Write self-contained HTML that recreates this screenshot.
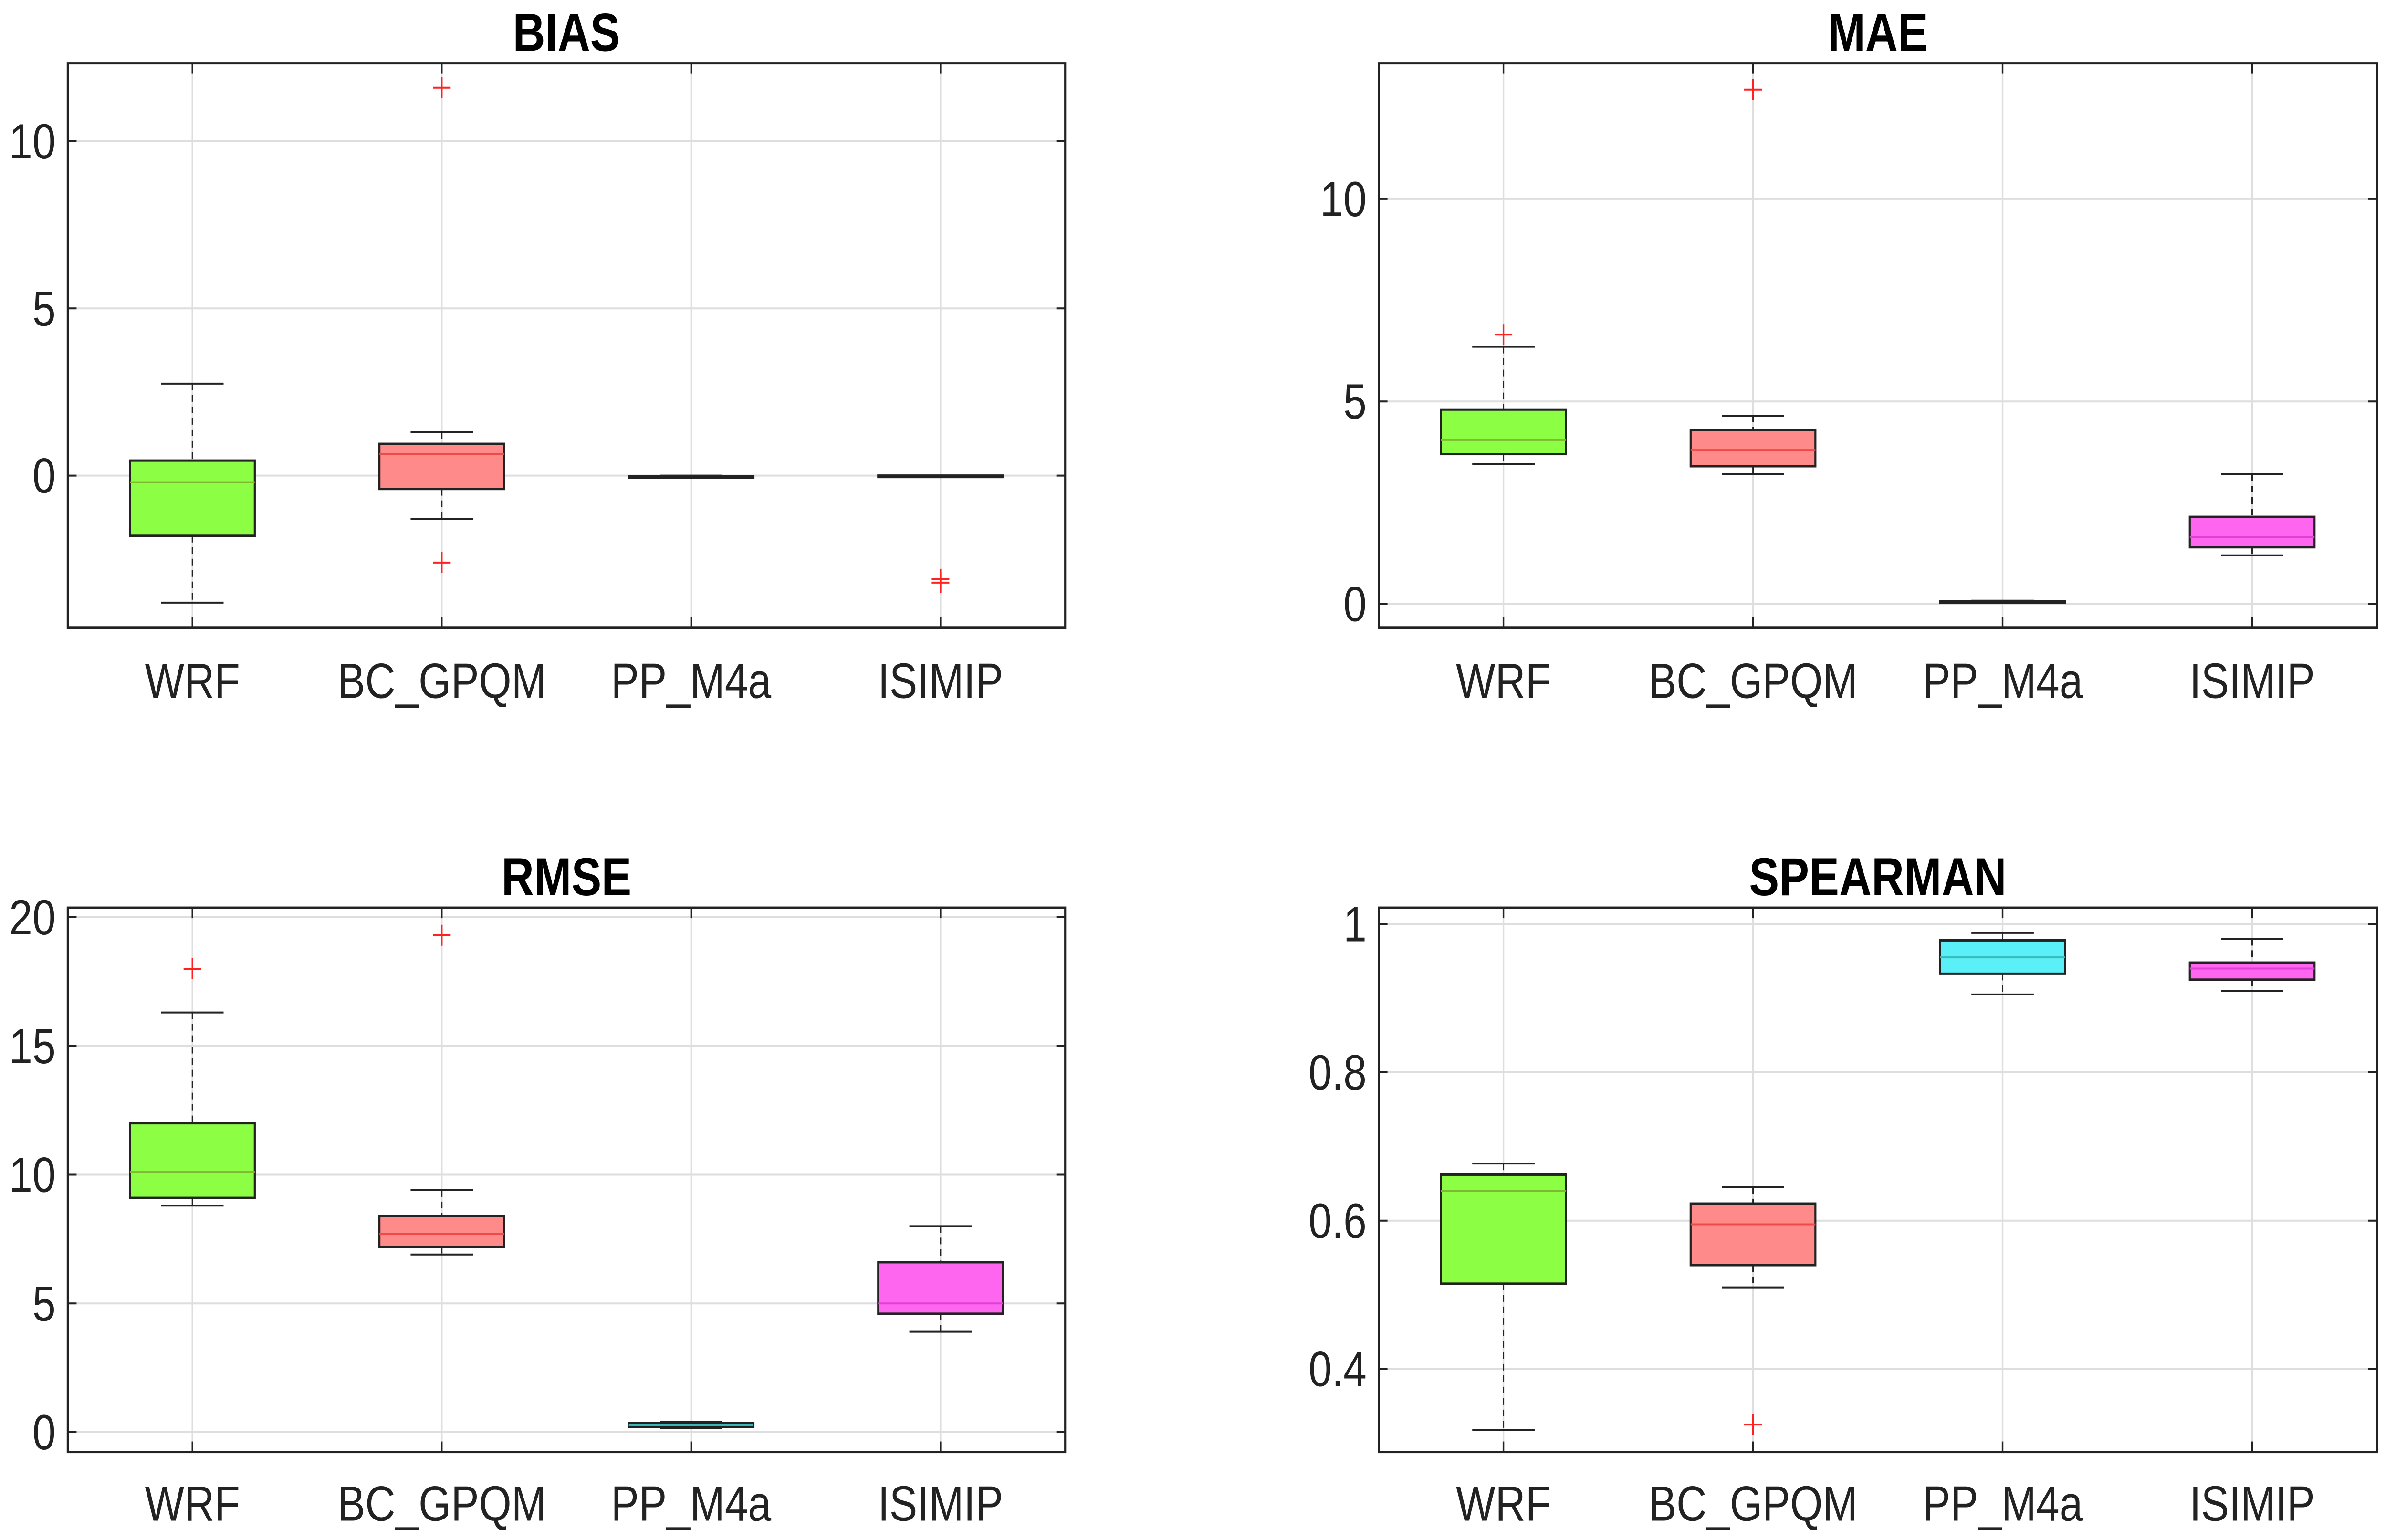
<!DOCTYPE html>
<html><head><meta charset="utf-8"><style>html,body{margin:0;padding:0;background:#fff;width:100%;height:100%;overflow:hidden}svg{display:block;width:100vw;height:100vh}</style></head>
<body>
<svg id="fig" xmlns="http://www.w3.org/2000/svg" viewBox="0 0 5941 3227" preserveAspectRatio="none" font-family="'Liberation Sans', Arial, sans-serif"></svg>
<script>
const categories = ["WRF","BC_GPQM","PP_M4a","ISIMIP"];
const biasWhiskerHi = [2.75, 1.3, 0.0, 0.0];
const biasQ3 = [0.45, 0.95, -0.02, 0.0];
const biasMedian = [-0.2, 0.65, -0.04, 0.0];
const biasQ1 = [-1.8, -0.4, -0.06, -0.01];
const biasWhiskerLo = [-3.8, -1.3, -0.07, -0.01];
const biasOutliers = [[], [11.6, -2.6], [], [-3.1, -3.2]];
const maeWhiskerHi = [6.35, 4.65, 0.08, 3.2];
const maeQ3 = [4.8, 4.3, 0.07, 2.15];
const maeMedian = [4.05, 3.8, 0.06, 1.65];
const maeQ1 = [3.7, 3.4, 0.05, 1.4];
const maeWhiskerLo = [3.45, 3.2, 0.04, 1.2];
const maeOutliers = [[6.65], [12.7], [], []];
const rmseWhiskerHi = [16.3, 9.4, 0.4, 8.0];
const rmseQ3 = [12.0, 8.4, 0.35, 6.6];
const rmseMedian = [10.1, 7.7, 0.28, 5.0];
const rmseQ1 = [9.1, 7.2, 0.2, 4.6];
const rmseWhiskerLo = [8.8, 6.9, 0.15, 3.9];
const rmseOutliers = [[18.0], [19.3], [], []];
const spWhiskerHi = [0.677, 0.645, 0.988, 0.98];
const spQ3 = [0.662, 0.623, 0.978, 0.948];
const spMedian = [0.64, 0.595, 0.955, 0.94];
const spQ1 = [0.515, 0.54, 0.933, 0.925];
const spWhiskerLo = [0.318, 0.51, 0.905, 0.91];
const spOutliers = [[], [0.325], [], []];
const biasTicks = [0, 5, 10];
const maeTicks = [0, 5, 10];
const rmseTicks = [0, 5, 10, 15, 20];
const spTicks = [0.4, 0.6, 0.8, 1];
const spTickLabels = ["0.4","0.6","0.8","1"];

const S = 3.789;
const NS = "http://www.w3.org/2000/svg";
const svg = document.getElementById('fig');
function mk(tag, attrs, parent){const e=document.createElementNS(NS,tag);for(const k in attrs)e.setAttribute(k,attrs[k]);(parent||svg).appendChild(e);return e;}
const fills=["#8cff45","#ff8a8a","#5af0f8","#ff66f0"];
const meds=["#7fb832","#ee4a4a","#3bb8b8","#e040d8"];

const panels=[
 {name:"bias",title:"BIAS",x0:44.5,x1:700,y0:35,y1:347,ymin:-4.54,ymax:12.33,ticks:biasTicks,labels:null,hi:biasWhiskerHi,q3:biasQ3,med:biasMedian,q1:biasQ1,lo:biasWhiskerLo,out:biasOutliers,ty:17,ly:376},
 {name:"mae",title:"MAE",x0:906,x1:1562,y0:35,y1:347,ymin:-0.58,ymax:13.35,ticks:maeTicks,labels:null,hi:maeWhiskerHi,q3:maeQ3,med:maeMedian,q1:maeQ1,lo:maeWhiskerLo,out:maeOutliers,ty:17,ly:376},
 {name:"rmse",title:"RMSE",x0:44.5,x1:700,y0:502,y1:803,ymin:-0.77,ymax:20.37,ticks:rmseTicks,labels:null,hi:rmseWhiskerHi,q3:rmseQ3,med:rmseMedian,q1:rmseQ1,lo:rmseWhiskerLo,out:rmseOutliers,ty:484,ly:831},
 {name:"spearman",title:"SPEARMAN",x0:906,x1:1562,y0:502,y1:803,ymin:0.288,ymax:1.022,ticks:spTicks,labels:spTickLabels,hi:spWhiskerHi,q3:spQ3,med:spMedian,q1:spQ1,lo:spWhiskerLo,out:spOutliers,ty:484,ly:831}
];

panels.forEach(p=>{
  const g=mk('g',{});
  
  
  const X0=p.x0*S,X1=p.x1*S,Y0=p.y0*S,Y1=p.y1*S;
  const yS=v=>Y1-(v-p.ymin)/(p.ymax-p.ymin)*(Y1-Y0);
  const step=(X1-X0)/4;
  const xS=i=>X0+step*(i+0.5);
  const bw=step*0.5;
  p.ticks.forEach((t,k)=>{
    const y=yS(t);
    const gl=mk('line',{x1:X0,x2:X1,y1:y,y2:y,stroke:"#dedede","stroke-width":4},g);
    
    
    mk('line',{x1:X0,x2:X0+22,y1:y,y2:y,stroke:"#222","stroke-width":4},g);
    mk('line',{x1:X1-22,x2:X1,y1:y,y2:y,stroke:"#222","stroke-width":4},g);
    const tl=mk('text',{x:X0-30,y:y+36,"text-anchor":"end","font-size":104,fill:"#222"},g);
    tl.textContent=p.labels?p.labels[k]:String(t);
    
    
  });
  categories.forEach((c,i)=>{
    const x=xS(i);
    mk('line',{x1:x,x2:x,y1:Y0,y2:Y1,stroke:"#dedede","stroke-width":4},g);
    mk('line',{x1:x,x2:x,y1:Y1-22,y2:Y1,stroke:"#222","stroke-width":4},g);
    mk('line',{x1:x,x2:x,y1:Y0,y2:Y0+22,stroke:"#222","stroke-width":4},g);
    const cl=mk('text',{x:x,y:p.ly*S+38,"text-anchor":"middle","font-size":104,fill:"#222"},g);
    cl.textContent=c;
    
    
  });
  categories.forEach((c,i)=>{
    const x=xS(i);
    const bg=mk('g',{},g);
    
    
    mk('line',{x1:x,x2:x,y1:yS(p.hi[i]),y2:yS(p.q3[i]),stroke:"#222","stroke-width":3.5,"stroke-dasharray":"14,10"},bg);
    mk('line',{x1:x,x2:x,y1:yS(p.q1[i]),y2:yS(p.lo[i]),stroke:"#222","stroke-width":3.5,"stroke-dasharray":"14,10"},bg);
    mk('line',{x1:x-bw/4,x2:x+bw/4,y1:yS(p.hi[i]),y2:yS(p.hi[i]),stroke:"#222","stroke-width":4},bg);
    mk('line',{x1:x-bw/4,x2:x+bw/4,y1:yS(p.lo[i]),y2:yS(p.lo[i]),stroke:"#222","stroke-width":4},bg);
    const top=yS(p.q3[i]),bot=yS(p.q1[i]);
    mk('rect',{x:x-bw/2,y:top,width:bw,height:Math.max(bot-top,3),fill:fills[i],stroke:"#222","stroke-width":5},bg);
    mk('line',{x1:x-bw/2,x2:x+bw/2,y1:yS(p.med[i]),y2:yS(p.med[i]),stroke:(bot-top<8?"#222":meds[i]),"stroke-width":4},bg);
    p.out[i].forEach(v=>{
      const y=yS(v);
      const o=mk('path',{d:`M${x-22},${y}H${x+22}M${x},${y-22}V${y+22}`,stroke:"#ff2020","stroke-width":4,fill:"none"},bg);
      
      
    });
  });
  const fr=mk('rect',{x:X0,y:Y0,width:X1-X0,height:Y1-Y0,fill:"none",stroke:"#222","stroke-width":5},g);
  
  
  const tt=mk('text',{x:(X0+X1)/2,y:p.ty*S+42,"text-anchor":"middle","font-size":112,"font-weight":"bold",fill:"#000"},g);
  tt.textContent=p.title;
  
  
});
</script>
</body></html>
